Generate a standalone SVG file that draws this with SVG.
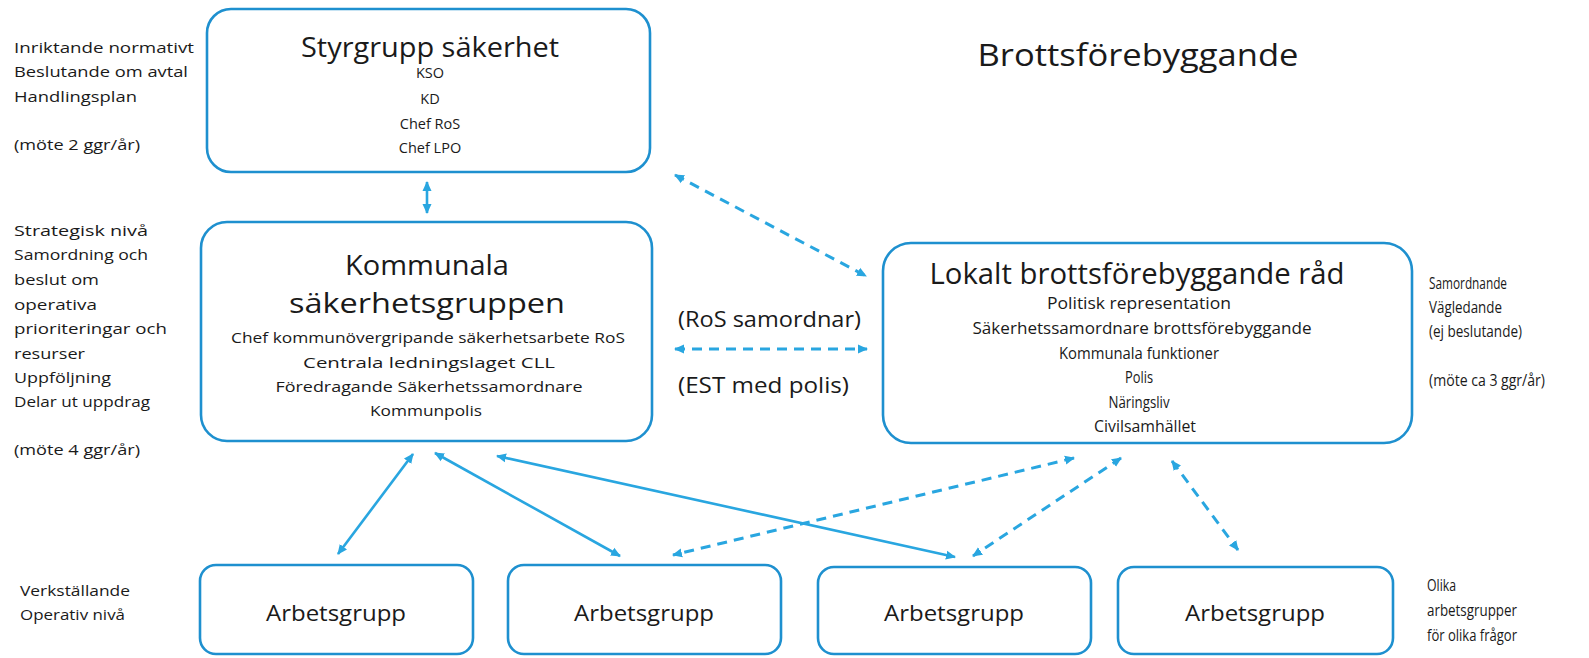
<svg xmlns="http://www.w3.org/2000/svg" width="1589" height="658" viewBox="0 0 1589 658">
<style>
  .box { fill: #ffffff; stroke: #1e90cf; stroke-width: 2.6; }
  .t { font-family: "Open Sans", "Noto Sans", "Liberation Sans", sans-serif; fill: #1a1a1a; }
  .s { font-size: 14.5px; }
  .n { font-size: 16.5px; }
  .big { font-size: 28px; }
  .mid { font-size: 21px; }
  .ag { font-size: 22px; }
  .c { text-anchor: middle; }
  .con { stroke: #29a6e0; stroke-width: 2.6; fill: none; marker-start: url(#ah); marker-end: url(#ah); }
  .dash { stroke-dasharray: 10 7; stroke-width: 3; }
</style>
<defs>
  <marker id="ah" viewBox="0 0 10 10" refX="9" refY="5" markerWidth="10" markerHeight="10" markerUnits="userSpaceOnUse" orient="auto-start-reverse">
    <path d="M0,0.5 L10,5 L0,9.5 z" fill="#29a6e0"/>
  </marker>
</defs>
<rect width="1589" height="658" fill="#ffffff"/>

<g id="side-left" class="t s">
  <text x="14" y="53" textLength="180" lengthAdjust="spacingAndGlyphs">Inriktande normativt</text>
  <text x="14" y="77" textLength="174" lengthAdjust="spacingAndGlyphs">Beslutande om avtal</text>
  <text x="14" y="102" textLength="123" lengthAdjust="spacingAndGlyphs">Handlingsplan</text>
  <text x="14" y="150" textLength="126" lengthAdjust="spacingAndGlyphs">(möte 2 ggr/år)</text>
  <text x="14" y="236" textLength="134" lengthAdjust="spacingAndGlyphs">Strategisk nivå</text>
  <text x="14" y="260" textLength="134" lengthAdjust="spacingAndGlyphs">Samordning och</text>
  <text x="14" y="285" textLength="85" lengthAdjust="spacingAndGlyphs">beslut om</text>
  <text x="14" y="310" textLength="83" lengthAdjust="spacingAndGlyphs">operativa</text>
  <text x="14" y="334" textLength="153" lengthAdjust="spacingAndGlyphs">prioriteringar och</text>
  <text x="14" y="359" textLength="71" lengthAdjust="spacingAndGlyphs">resurser</text>
  <text x="14" y="383" textLength="97" lengthAdjust="spacingAndGlyphs">Uppföljning</text>
  <text x="14" y="407" textLength="136" lengthAdjust="spacingAndGlyphs">Delar ut uppdrag</text>
  <text x="14" y="455" textLength="126" lengthAdjust="spacingAndGlyphs">(möte 4 ggr/år)</text>
  <text x="20" y="596" textLength="110" lengthAdjust="spacingAndGlyphs">Verkställande</text>
  <text x="20" y="620" textLength="105" lengthAdjust="spacingAndGlyphs">Operativ nivå</text>
</g>

<g id="side-right" class="t n">
  <text x="1429" y="289" textLength="78" lengthAdjust="spacingAndGlyphs">Samordnande</text>
  <text x="1429" y="313" textLength="73" lengthAdjust="spacingAndGlyphs">Vägledande</text>
  <text x="1429" y="337" textLength="93" lengthAdjust="spacingAndGlyphs">(ej beslutande)</text>
  <text x="1429" y="386" textLength="116" lengthAdjust="spacingAndGlyphs">(möte ca 3 ggr/år)</text>
  <text x="1427" y="591" textLength="29" lengthAdjust="spacingAndGlyphs">Olika</text>
  <text x="1427" y="616" textLength="90" lengthAdjust="spacingAndGlyphs">arbetsgrupper</text>
  <text x="1427" y="641" textLength="90" lengthAdjust="spacingAndGlyphs">för olika frågor</text>
</g>

<text id="heading" class="t c" x="1138" y="66" font-size="31" textLength="321" lengthAdjust="spacingAndGlyphs">Brottsförebyggande</text>

<g id="styrgrupp">
  <rect class="box" x="207" y="9" width="443" height="163" rx="24"/>
  <text class="t big c" x="430" y="57" textLength="258" lengthAdjust="spacingAndGlyphs">Styrgrupp säkerhet</text>
  <text class="t s c" x="430" y="78">KSO</text>
  <text class="t s c" x="430" y="104">KD</text>
  <text class="t s c" x="430" y="129">Chef RoS</text>
  <text class="t s c" x="430" y="153">Chef LPO</text>
</g>

<g id="kommunala">
  <rect class="box" x="201" y="222" width="451" height="219" rx="26"/>
  <text class="t big c" x="427" y="275" textLength="164" lengthAdjust="spacingAndGlyphs">Kommunala</text>
  <text class="t big c" x="427" y="313" textLength="276" lengthAdjust="spacingAndGlyphs">säkerhetsgruppen</text>
  <text class="t s c" x="428" y="343" textLength="394" lengthAdjust="spacingAndGlyphs">Chef kommunövergripande säkerhetsarbete RoS</text>
  <text class="t s c" x="429" y="368" textLength="252" lengthAdjust="spacingAndGlyphs">Centrala ledningslaget CLL</text>
  <text class="t s c" x="429" y="392" textLength="307" lengthAdjust="spacingAndGlyphs">Föredragande Säkerhetssamordnare</text>
  <text class="t s c" x="426" y="416" textLength="112" lengthAdjust="spacingAndGlyphs">Kommunpolis</text>
</g>

<g id="lokalt">
  <rect class="box" x="883" y="243" width="529" height="200" rx="28"/>
  <text class="t c" font-size="30" x="1137" y="284" textLength="415" lengthAdjust="spacingAndGlyphs">Lokalt brottsförebyggande råd</text>
  <text class="t n c" x="1139" y="309" textLength="184" lengthAdjust="spacingAndGlyphs">Politisk representation</text>
  <text class="t n c" x="1142" y="334" textLength="339" lengthAdjust="spacingAndGlyphs">Säkerhetssamordnare brottsförebyggande</text>
  <text class="t n c" x="1139" y="359" textLength="160" lengthAdjust="spacingAndGlyphs">Kommunala funktioner</text>
  <text class="t n c" x="1139" y="383" textLength="28" lengthAdjust="spacingAndGlyphs">Polis</text>
  <text class="t n c" x="1139" y="408" textLength="61" lengthAdjust="spacingAndGlyphs">Näringsliv</text>
  <text class="t n c" x="1145" y="432" textLength="102" lengthAdjust="spacingAndGlyphs">Civilsamhället</text>
</g>

<g id="labels-mid" class="t mid">
  <text x="678" y="327" textLength="183" lengthAdjust="spacingAndGlyphs">(RoS samordnar)</text>
  <text x="678" y="393" textLength="171" lengthAdjust="spacingAndGlyphs">(EST med polis)</text>
</g>

<g id="arbetsgrupp1">
  <rect class="box" x="200" y="565" width="273" height="89" rx="16"/>
  <text class="t ag c" x="336" y="621" textLength="140" lengthAdjust="spacingAndGlyphs">Arbetsgrupp</text>
</g>
<g id="arbetsgrupp2">
  <rect class="box" x="508" y="565" width="273" height="89" rx="16"/>
  <text class="t ag c" x="644" y="621" textLength="140" lengthAdjust="spacingAndGlyphs">Arbetsgrupp</text>
</g>
<g id="arbetsgrupp3">
  <rect class="box" x="818" y="567" width="273" height="87" rx="16"/>
  <text class="t ag c" x="954" y="621" textLength="140" lengthAdjust="spacingAndGlyphs">Arbetsgrupp</text>
</g>
<g id="arbetsgrupp4">
  <rect class="box" x="1118" y="567" width="275" height="87" rx="16"/>
  <text class="t ag c" x="1255" y="621" textLength="140" lengthAdjust="spacingAndGlyphs">Arbetsgrupp</text>
</g>

<g id="connectors">
  <line class="con" x1="427" y1="182" x2="427" y2="213"/>
  <line class="con dash" x1="675" y1="175" x2="866" y2="276"/>
  <line class="con dash" x1="675" y1="349" x2="867" y2="349"/>
  <line class="con" x1="413" y1="454" x2="338" y2="554"/>
  <line class="con" x1="435" y1="453" x2="620" y2="556"/>
  <line class="con" x1="497" y1="456" x2="955" y2="557"/>
  <line class="con dash" x1="1074" y1="458" x2="673" y2="555"/>
  <line class="con dash" x1="1121" y1="458" x2="973" y2="556"/>
  <line class="con dash" x1="1172" y1="461" x2="1238" y2="550"/>
</g>
</svg>
